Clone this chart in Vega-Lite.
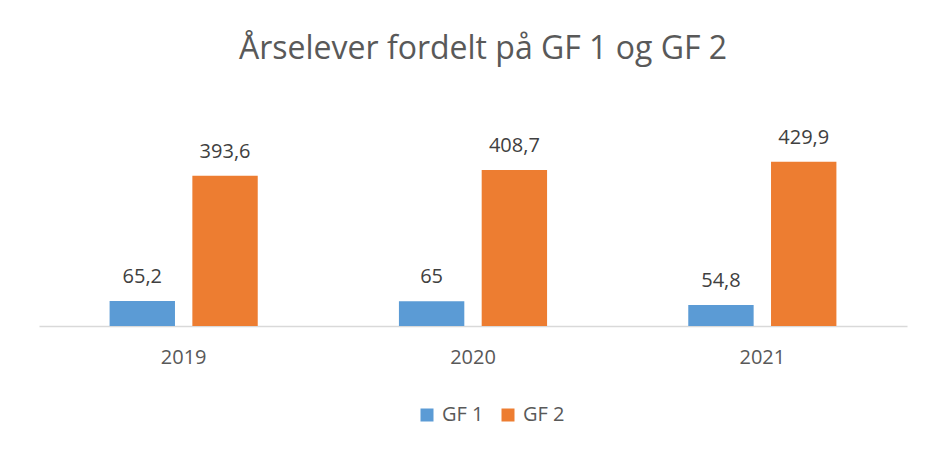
{
  "$schema": "https://vega.github.io/schema/vega-lite/v6.json",
  "width": 868,
  "height": 191,
  "autosize": {"type": "none"},
  "padding": {"left": 39, "top": 135, "right": 45, "bottom": 124},
  "background": "white",
  "title": {
    "text": "Årselever fordelt på GF 1 og GF 2",
    "font": "Open Sans",
    "fontSize": 32,
    "fontWeight": "normal",
    "color": "#595959",
    "anchor": "middle",
    "baseline": "alphabetic",
    "offset": 37,
    "dx": 10
  },
  "data": {
    "values": [
      {"year": "2019", "serie": "GF 1", "value": 65.2, "label": "65,2"},
      {"year": "2019", "serie": "GF 2", "value": 393.6, "label": "393,6"},
      {"year": "2020", "serie": "GF 1", "value": 65, "label": "65"},
      {"year": "2020", "serie": "GF 2", "value": 408.7, "label": "408,7"},
      {"year": "2021", "serie": "GF 1", "value": 54.8, "label": "54,8"},
      {"year": "2021", "serie": "GF 2", "value": 429.9, "label": "429,9"}
    ]
  },
  "encoding": {
    "x": {
      "field": "year",
      "type": "nominal",
      "scale": {"paddingInner": 0.488, "paddingOuter": 0.244},
      "axis": {
        "title": null,
        "labelAngle": 0,
        "labelFont": "Open Sans",
        "labelFontSize": 20,
        "labelColor": "#595959",
        "labelPadding": 21,
        "ticks": false,
        "domainColor": "#d9d9d9",
        "domainWidth": 1.5,
        "grid": false
      }
    },
    "xOffset": {
      "field": "serie",
      "type": "nominal",
      "scale": {"paddingInner": 0.21, "paddingOuter": 0}
    },
    "y": {
      "field": "value",
      "type": "quantitative",
      "scale": {"domain": [0, 500]},
      "axis": null
    }
  },
  "layer": [
    {
      "mark": {"type": "bar"},
      "encoding": {
        "color": {
          "field": "serie",
          "type": "nominal",
          "scale": {"domain": ["GF 1", "GF 2"], "range": ["#5B9BD5", "#ED7D31"]},
          "legend": {
            "title": null,
            "orient": "none",
            "direction": "horizontal",
            "legendX": 378,
            "legendY": 270,
            "symbolType": "square",
            "symbolSize": 169,
            "symbolStrokeWidth": 0,
            "labelFont": "Open Sans",
            "labelFontSize": 20,
            "labelColor": "#595959",
            "labelOffset": 5,
            "columnPadding": 14,
            "padding": 0
          }
        }
      }
    },
    {
      "mark": {
        "type": "text",
        "baseline": "alphabetic",
        "dy": -18,
        "font": "Open Sans",
        "fontSize": 20,
        "color": "#404040"
      },
      "encoding": {
        "text": {"field": "label", "type": "nominal"}
      }
    }
  ],
  "config": {
    "view": {"stroke": null}
  }
}
